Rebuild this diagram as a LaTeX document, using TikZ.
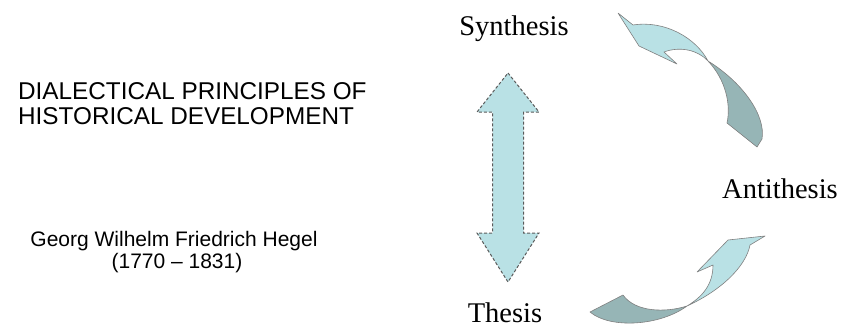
\documentclass[tikz,border=0pt]{standalone}
\usepackage{fontspec}
\setmainfont{Liberation Serif}
\setsansfont{Liberation Sans}
\definecolor{lightcolor}{RGB}{185,225,229}
\definecolor{darkcolor}{RGB}{150,181,182}
\definecolor{edgecolor}{RGB}{90,90,90}

\begin{document}
\begin{tikzpicture}[x=1pt, y=-1pt,
  stage/.style={font=\rmfamily\fontsize{28.5}{34}\selectfont, inner sep=0pt, anchor=base},
  heading/.style={font=\sffamily\fontsize{24.3}{28}\selectfont, inner sep=0pt, anchor=base west},
  author/.style={font=\sffamily\fontsize{21}{24}\selectfont, inner sep=0pt, anchor=base},
  ribbon/.style={draw=gray, line width=0.6pt, line join=round}]

\useasboundingbox (0,0) rectangle (841,327);

% Dimensions of the double arrow
\def\midx{508}
\def\tiptop{73}
\def\headtop{112}
\def\headbot{233}
\def\tipbot{282}
\def\headhalf{31}
\def\shafthalf{15.5}

% Title and author
\node[heading] (title1) at (18,99) {DIALECTICAL PRINCIPLES OF};
\node[heading] (title2) at (18,124) {HISTORICAL DEVELOPMENT};
\node[author] (hegel) at (174,246) {Georg Wilhelm Friedrich Hegel};
\node[author] (dates) at (177,268) {(1770 -- 1831)};

% The three stages
\node[stage] (synthesis) at (514,35) {Synthesis};
\node[stage] (antithesis) at (780,198) {Antithesis};
\node[stage] (thesis) at (505,322) {Thesis};

% Double arrow between thesis and synthesis
\draw[draw=edgecolor, fill=lightcolor, line width=1pt, dash pattern=on 3pt off 2pt]
  (\midx,\tiptop) -- (\midx+\headhalf,\headtop) -- (\midx+\shafthalf,\headtop)
  -- (\midx+\shafthalf,\headbot) -- (\midx+\headhalf,\headbot) -- (\midx,\tipbot)
  -- (\midx-\headhalf,\headbot) -- (\midx-\shafthalf,\headbot) -- (\midx-\shafthalf,\headtop)
  -- (\midx-\headhalf,\headtop) -- cycle;

% Curved arrow from antithesis up to synthesis
\draw[ribbon, fill=darkcolor] (708,61) .. controls (742,82) and (766,115) .. (762,139)
  -- (757,147) -- (727,123) .. controls (731,105) and (726,80) .. (708,61) -- cycle;
\draw[ribbon, fill=lightcolor] (618,13) -- (633,25) .. controls (665,20) and (696,38) .. (708,61)
  .. controls (698,50) and (680,46) .. (664,52) -- (677,64) -- (639,46) -- cycle;

% Curved arrow from thesis up to antithesis
\draw[ribbon, fill=darkcolor] (687,306) .. controls (665,313) and (635,312) .. (623,295)
  -- (590,312) .. controls (610,329) and (660,326) .. (687,306) -- cycle;
\draw[ribbon, fill=lightcolor] (765,236) -- (750,245) .. controls (746,266) and (722,290) .. (687,306)
  .. controls (702,297) and (713,285) .. (713,265) -- (697,272) -- (728,240) -- cycle;

\end{tikzpicture}
\end{document}
